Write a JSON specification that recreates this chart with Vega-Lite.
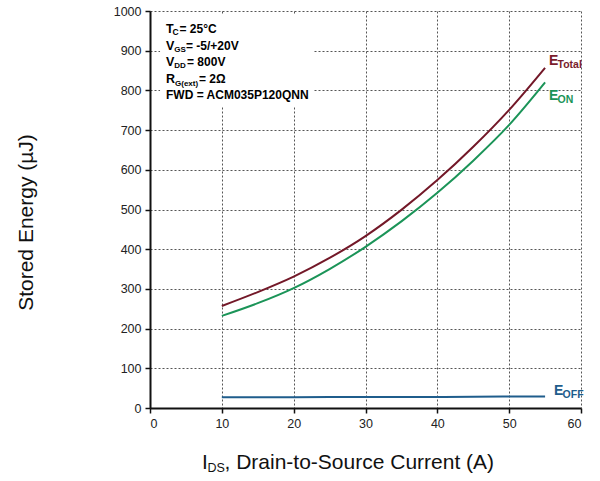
{
  "$schema": "https://vega.github.io/schema/vega-lite/v6.json",
  "width": 431,
  "height": 397,
  "autosize": "none",
  "padding": {"left": 150, "top": 11, "right": 19, "bottom": 73},
  "background": "white",
  "resolve": {"axis": {"x": "independent", "y": "independent"}},
  "config": {
    "view": {"stroke": null},
    "font": "Liberation Sans",
    "axis": {
      "domainColor": "#111", "domainWidth": 2,
      "tickColor": "#111", "tickSize": 5, "tickWidth": 1.5,
      "labelFont": "Liberation Sans", "labelFontSize": 12.5, "labelColor": "#222", "labelPadding": 4,
      "labelOverlap": false, "format": "d",
      "grid": true, "gridColor": "#555", "gridDash": [2, 2], "gridWidth": 1
    },
    "axisY": {
      "titleFont": "Liberation Sans", "titleFontSize": 21, "titleFontWeight": "normal", "titleColor": "#111",
      "titleX": -124, "titleY": 211, "titleAngle": -90, "titleAlign": "center", "titleBaseline": "middle"
    }
  },
  "datasets": {
    "curves": [
      {"I": 10, "E": 257, "s": "ETotal"}, {"I": 15, "E": 292, "s": "ETotal"}, {"I": 20, "E": 331, "s": "ETotal"},
      {"I": 25, "E": 378, "s": "ETotal"}, {"I": 30, "E": 433, "s": "ETotal"}, {"I": 35, "E": 499, "s": "ETotal"},
      {"I": 40, "E": 574, "s": "ETotal"}, {"I": 45, "E": 658, "s": "ETotal"}, {"I": 50, "E": 751, "s": "ETotal"},
      {"I": 55, "E": 857, "s": "ETotal"},
      {"I": 10, "E": 232, "s": "EON"}, {"I": 15, "E": 264, "s": "EON"}, {"I": 20, "E": 302, "s": "EON"},
      {"I": 25, "E": 350, "s": "EON"}, {"I": 30, "E": 406, "s": "EON"}, {"I": 35, "E": 470, "s": "EON"},
      {"I": 40, "E": 542, "s": "EON"}, {"I": 45, "E": 623, "s": "EON"}, {"I": 50, "E": 713, "s": "EON"},
      {"I": 55, "E": 820, "s": "EON"},
      {"I": 10, "E": 27, "s": "EOFF"}, {"I": 20, "E": 27, "s": "EOFF"}, {"I": 30, "E": 28, "s": "EOFF"},
      {"I": 40, "E": 28, "s": "EOFF"}, {"I": 50, "E": 29, "s": "EOFF"}, {"I": 55, "E": 29, "s": "EOFF"}
    ]
  },
  "layer": [
    {
      "data": {"name": "curves"},
      "mark": {"type": "line", "strokeWidth": 2, "interpolate": "monotone"},
      "encoding": {
        "x": {"field": "I", "type": "quantitative", "scale": {"domain": [0, 60], "nice": false},
              "axis": {"values": [0, 10, 20, 30, 40, 50, 60], "title": null, "format": "d"}},
        "y": {"field": "E", "type": "quantitative", "scale": {"domain": [0, 1000], "nice": false},
              "axis": {"values": [0, 100, 200, 300, 400, 500, 600, 700, 800, 900, 1000], "format": "d", "title": "Stored Energy (µJ)"}},
        "color": {"field": "s", "type": "nominal",
                  "scale": {"domain": ["ETotal", "EON", "EOFF"], "range": ["#731828", "#1b9458", "#1f5d8c"]},
                  "legend": null}
      }
    },
    {
      "data": {"values": [{}]},
      "mark": {"type": "rect", "color": "white"},
      "encoding": {"x": {"datum": 1.4, "axis": null}, "x2": {"datum": 22.7}, "y": {"datum": 760, "axis": null}, "y2": {"datum": 992}}
    },
    {"data": {"values": [{}]}, "mark": {"type": "text", "text": "T", "fontSize": 12.5, "fontWeight": "bold", "align": "left", "baseline": "alphabetic", "color": "#000"}, "encoding": {"x": {"datum": 2.23, "axis": null}, "y": {"datum": 944.6, "axis": null}}},
    {"data": {"values": [{}]}, "mark": {"type": "text", "text": "C", "fontSize": 8.5, "fontWeight": "bold", "align": "left", "baseline": "alphabetic", "color": "#000", "dx": 6.5, "dy": 2.5}, "encoding": {"x": {"datum": 2.23, "axis": null}, "y": {"datum": 944.6, "axis": null}}},
    {"data": {"values": [{}]}, "mark": {"type": "text", "text": "= 25°C", "fontSize": 12, "fontWeight": "bold", "align": "left", "baseline": "alphabetic", "color": "#000", "dx": 13.5}, "encoding": {"x": {"datum": 2.23, "axis": null}, "y": {"datum": 944.6, "axis": null}}},
    {"data": {"values": [{}]}, "mark": {"type": "text", "text": "V", "fontSize": 12.5, "fontWeight": "bold", "align": "left", "baseline": "alphabetic", "color": "#000"}, "encoding": {"x": {"datum": 2.23, "axis": null}, "y": {"datum": 903.0, "axis": null}}},
    {"data": {"values": [{}]}, "mark": {"type": "text", "text": "GS", "fontSize": 8, "fontWeight": "bold", "align": "left", "baseline": "alphabetic", "color": "#000", "dx": 8.3, "dy": 2.5}, "encoding": {"x": {"datum": 2.23, "axis": null}, "y": {"datum": 903.0, "axis": null}}},
    {"data": {"values": [{}]}, "mark": {"type": "text", "text": "= -5/+20V", "fontSize": 12, "fontWeight": "bold", "align": "left", "baseline": "alphabetic", "color": "#000", "dx": 20}, "encoding": {"x": {"datum": 2.23, "axis": null}, "y": {"datum": 903.0, "axis": null}}},
    {"data": {"values": [{}]}, "mark": {"type": "text", "text": "V", "fontSize": 12.5, "fontWeight": "bold", "align": "left", "baseline": "alphabetic", "color": "#000"}, "encoding": {"x": {"datum": 2.23, "axis": null}, "y": {"datum": 861.5, "axis": null}}},
    {"data": {"values": [{}]}, "mark": {"type": "text", "text": "DD", "fontSize": 8, "fontWeight": "bold", "align": "left", "baseline": "alphabetic", "color": "#000", "dx": 8.3, "dy": 2.5}, "encoding": {"x": {"datum": 2.23, "axis": null}, "y": {"datum": 861.5, "axis": null}}},
    {"data": {"values": [{}]}, "mark": {"type": "text", "text": "= 800V", "fontSize": 12, "fontWeight": "bold", "align": "left", "baseline": "alphabetic", "color": "#000", "dx": 21}, "encoding": {"x": {"datum": 2.23, "axis": null}, "y": {"datum": 861.5, "axis": null}}},
    {"data": {"values": [{}]}, "mark": {"type": "text", "text": "R", "fontSize": 12.5, "fontWeight": "bold", "align": "left", "baseline": "alphabetic", "color": "#000"}, "encoding": {"x": {"datum": 2.23, "axis": null}, "y": {"datum": 818.6, "axis": null}}},
    {"data": {"values": [{}]}, "mark": {"type": "text", "text": "G(ext)", "fontSize": 8, "fontWeight": "bold", "align": "left", "baseline": "alphabetic", "color": "#000", "dx": 9, "dy": 2.5}, "encoding": {"x": {"datum": 2.23, "axis": null}, "y": {"datum": 818.6, "axis": null}}},
    {"data": {"values": [{}]}, "mark": {"type": "text", "text": "= 2Ω", "fontSize": 12, "fontWeight": "bold", "align": "left", "baseline": "alphabetic", "color": "#000", "dx": 33}, "encoding": {"x": {"datum": 2.23, "axis": null}, "y": {"datum": 818.6, "axis": null}}},
    {"data": {"values": [{}]}, "mark": {"type": "text", "text": "FWD = ACM035P120QNN", "fontSize": 12, "fontWeight": "bold", "align": "left", "baseline": "alphabetic", "color": "#000"}, "encoding": {"x": {"datum": 2.23, "axis": null}, "y": {"datum": 777.1, "axis": null}}},
    {"data": {"values": [{}]}, "mark": {"type": "text", "text": "E", "fontSize": 14, "fontWeight": "bold", "align": "left", "baseline": "alphabetic", "color": "#7a1c2c"}, "encoding": {"x": {"datum": 55.55, "axis": null}, "y": {"datum": 864, "axis": null}}},
    {"data": {"values": [{}]}, "mark": {"type": "text", "text": "Total", "fontSize": 10.5, "fontWeight": "bold", "align": "left", "baseline": "alphabetic", "color": "#7a1c2c", "dx": 8.5, "dy": 3}, "encoding": {"x": {"datum": 55.55, "axis": null}, "y": {"datum": 864, "axis": null}}},
    {"data": {"values": [{}]}, "mark": {"type": "text", "text": "E", "fontSize": 14, "fontWeight": "bold", "align": "left", "baseline": "alphabetic", "color": "#1b9458"}, "encoding": {"x": {"datum": 55.55, "axis": null}, "y": {"datum": 775.8, "axis": null}}},
    {"data": {"values": [{}]}, "mark": {"type": "text", "text": "ON", "fontSize": 10.5, "fontWeight": "bold", "align": "left", "baseline": "alphabetic", "color": "#1b9458", "dx": 8.5, "dy": 3}, "encoding": {"x": {"datum": 55.55, "axis": null}, "y": {"datum": 775.8, "axis": null}}},
    {"data": {"values": [{}]}, "mark": {"type": "text", "text": "E", "fontSize": 14, "fontWeight": "bold", "align": "left", "baseline": "alphabetic", "color": "#1f5d8c"}, "encoding": {"x": {"datum": 56.25, "axis": null}, "y": {"datum": 32.7, "axis": null}}},
    {"data": {"values": [{}]}, "mark": {"type": "text", "text": "OFF", "fontSize": 10.5, "fontWeight": "bold", "align": "left", "baseline": "alphabetic", "color": "#1f5d8c", "dx": 8.5, "dy": 3}, "encoding": {"x": {"datum": 56.25, "axis": null}, "y": {"datum": 32.7, "axis": null}}},
    {"data": {"values": [{}]}, "mark": {"type": "text", "text": "I", "fontSize": 21, "align": "left", "baseline": "alphabetic", "color": "#111"}, "encoding": {"x": {"datum": 7.24, "axis": null}, "y": {"datum": -153.7, "axis": null}}},
    {"data": {"values": [{}]}, "mark": {"type": "text", "text": "DS", "fontSize": 12.5, "align": "left", "baseline": "alphabetic", "color": "#111", "dx": 5.5, "dy": 2.7}, "encoding": {"x": {"datum": 7.24, "axis": null}, "y": {"datum": -153.7, "axis": null}}},
    {"data": {"values": [{}]}, "mark": {"type": "text", "text": ", Drain-to-Source Current (A)", "fontSize": 21, "align": "left", "baseline": "alphabetic", "color": "#111", "dx": 22.5}, "encoding": {"x": {"datum": 7.24, "axis": null}, "y": {"datum": -153.7, "axis": null}}}
  ]
}
